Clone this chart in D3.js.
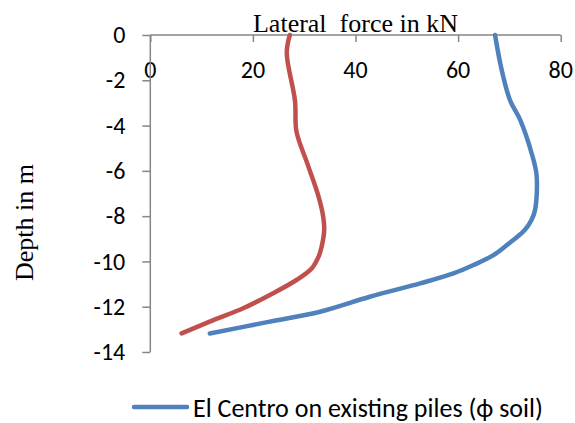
<!DOCTYPE html>
<html lang="en">
<head>
    <meta charset="UTF-8">
    <title>Lateral force vs depth</title>
    <script src="https://cdn.jsdelivr.net/npm/d3@7"></script>
    <style>
        body { margin: 0; background: #fff; }
    </style>
</head>
<body>
<div id="chart"></div>
<script>
    // depth (m) and lateral force (kN)
    let redDepth = [0, -0.8, -2.9, -4.27, -5.67, -7.14, -8.02, -8.61, -9.35, -9.79, -10.3, -10.82, -11.48, -12.07, -12.59, -13.18];
    let redForce = [27.2, 26.6, 28.2, 28.5, 30.6, 32.8, 33.7, 33.9, 33.4, 32.8, 31.5, 28.5, 23.3, 18.1, 12.3, 6.1];

    let blueDepth = [0, -1.55, -2.87, -3.75, -5.2, -6.2, -7.73, -8.17, -8.61, -9.28, -9.72, -10.16, -10.53, -10.97, -11.56, -12.22, -12.66, -13.18];
    let blueForce = [67.2, 68.5, 70.1, 72.1, 74.3, 75.3, 75.0, 74.3, 73.0, 69.5, 66.9, 63.0, 59.1, 52.6, 42.8, 33.1, 23.3, 11.6];

    let xTicks = [0, 20, 40, 60, 80];
    let yTicks = [0, -2, -4, -6, -8, -10, -12, -14];

    let legendLabel = "El Centro on existing piles (\u03d5 soil)";

    var width = 575, height = 423;
    var svg = d3.select("#chart").append("svg")
        .attr("width", width)
        .attr("height", height);

    var x = d3.scaleLinear().domain([0, 80]).range([150.3, 560.7]);
    var y = d3.scaleLinear().domain([0, -14]).range([35, 352]);

    var axisColor = "#868686";
    var sans = "Carlito, 'Open Sans', 'Noto Sans', sans-serif";
    var serif = "'Liberation Serif', 'Times New Roman', serif";

    // x axis on top, ticks hanging down
    var gx = svg.append("g").attr("transform", "translate(0," + y(0) + ")")
        .call(d3.axisBottom(x).tickValues(xTicks).tickSize(7).tickFormat(""));
    gx.select(".domain").attr("stroke", axisColor).attr("stroke-width", 1.5).attr("d", "M" + x(0) + ",0H" + x(80));
    gx.selectAll(".tick line").attr("stroke", axisColor).attr("stroke-width", 1.5);

    svg.append("g").selectAll("text").data(xTicks).enter().append("text")
        .attr("x", d => x(d))
        .attr("y", 78)
        .attr("text-anchor", "middle")
        .attr("font-family", sans)
        .attr("font-size", 24)
        .text(d => d);

    // y axis
    var gy = svg.append("g").attr("transform", "translate(" + x(0) + ",0)")
        .call(d3.axisLeft(y).tickValues(yTicks).tickSize(8));
    gy.select(".domain").attr("stroke", axisColor).attr("stroke-width", 1.5).attr("d", "M0," + y(0) + "V" + y(-14));
    gy.selectAll(".tick line").attr("stroke", axisColor).attr("stroke-width", 1.5);
    gy.selectAll(".tick text")
        .attr("font-family", sans)
        .attr("font-size", 24)
        .attr("fill", "#000")
        .attr("x", -25)
        .text(d => d === 0 ? "0" : "-" + Math.abs(d));

    // titles
    svg.append("text")
        .attr("x", 355.5).attr("y", 32)
        .attr("text-anchor", "middle")
        .attr("font-family", serif)
        .attr("font-size", 26)
        .style("white-space", "pre")
        .text("Lateral  force in kN");

    svg.append("text")
        .attr("transform", "translate(33,281) rotate(-90)")
        .attr("text-anchor", "start")
        .attr("font-family", serif)
        .attr("font-size", 26)
        .text("Depth in m");

    var line = d3.line()
        .x(d => x(d[0]))
        .y(d => y(d[1]))
        .curve(d3.curveCatmullRom.alpha(0.5));

    var redPts = redForce.map((f, i) => [f, redDepth[i]]);
    var bluePts = blueForce.map((f, i) => [f, blueDepth[i]]);

    svg.append("path").datum(bluePts)
        .attr("d", line)
        .attr("fill", "none")
        .attr("stroke", "#4F81BD")
        .attr("stroke-width", 4.5)
        .attr("stroke-linecap", "round")
        .attr("stroke-linejoin", "round");

    svg.append("path").datum(redPts)
        .attr("d", line)
        .attr("fill", "none")
        .attr("stroke", "#C0504D")
        .attr("stroke-width", 4.5)
        .attr("stroke-linecap", "round")
        .attr("stroke-linejoin", "round");

    // legend
    svg.append("line")
        .attr("x1", 134).attr("x2", 187)
        .attr("y1", 407).attr("y2", 407)
        .attr("stroke", "#4F81BD")
        .attr("stroke-width", 4.5)
        .attr("stroke-linecap", "round");
    svg.append("text")
        .attr("x", 193).attr("y", 417)
        .attr("font-family", sans)
        .attr("font-size", 26)
        .text(legendLabel);
</script>
</body>
</html>
